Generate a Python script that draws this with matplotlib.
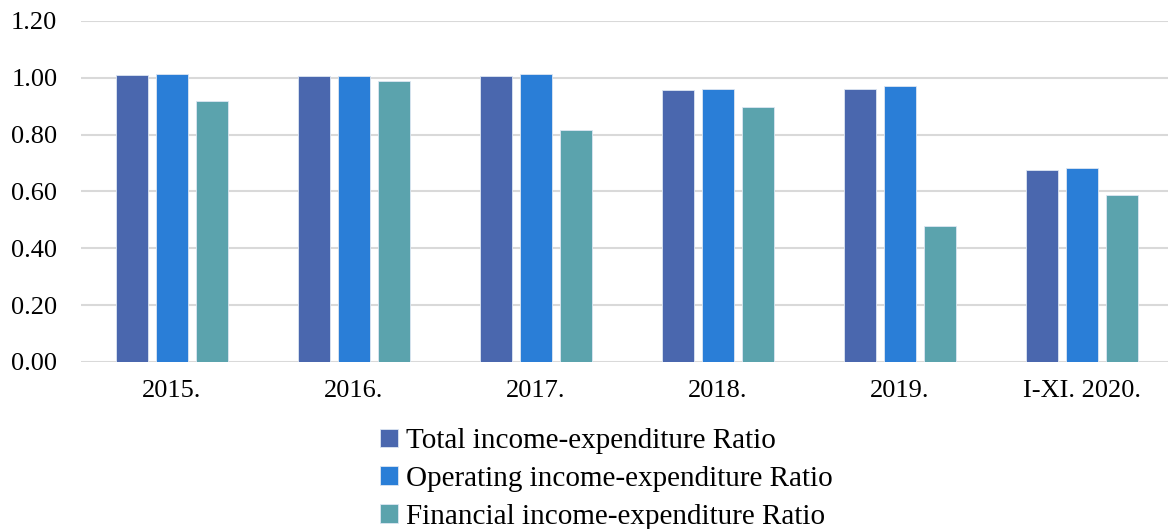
import numpy as np
import matplotlib.pyplot as plt

plt.rcParams['font.family'] = ['Liberation Serif', 'DejaVu Serif']

years = ['2015.', '2016.', '2017.', '2018.', '2019.', 'I-XI. 2020.']
total_ratio = [1.01, 1.006, 1.006, 0.957, 0.959, 0.676]
operating_ratio = [1.013, 1.006, 1.014, 0.959, 0.972, 0.684]
financial_ratio = [0.918, 0.988, 0.817, 0.896, 0.480, 0.588]

series = [
    ('Total income-expenditure Ratio', total_ratio, '#4A67AE'),
    ('Operating income-expenditure Ratio', operating_ratio, '#2A7ED7'),
    ('Financial income-expenditure Ratio', financial_ratio, '#5BA3AD'),
]

fig = plt.figure(figsize=(11.68, 5.29), dpi=100)
ax = fig.add_axes([81/1168, 167/529, 1092/1168, 341/529])

x = np.arange(len(years))
w = 0.176
step = 0.22
for i, (name, vals, col) in enumerate(series):
    ax.bar(x + (i - 1) * step, vals, width=w, color=col, label=name,
           edgecolor='#DDE6F2', linewidth=0.6, zorder=3)

ax.set_xlim(-0.5, len(years) - 0.5)
ax.set_ylim(0, 1.2)
ax.set_yticks(np.arange(0, 1.21, 0.2))
ax.set_yticklabels(['{:.2f}'.format(v) for v in np.arange(0, 1.21, 0.2)])
ax.set_xticks(x)
ax.set_xticklabels(years)
ax.tick_params(axis='both', length=0, labelsize=19)
ax.tick_params(axis='y', pad=17)
ax.tick_params(axis='x', pad=13)
ax.grid(axis='y', color='#D9D9D9', linewidth=1.5, zorder=0)
for s in ax.spines.values():
    s.set_visible(False)

fig.legend(loc='upper center', bbox_to_anchor=(0.519, 0.218), ncol=1,
           frameon=False, fontsize=21, handlelength=0.62, handleheight=0.62,
           handletextpad=0.25, labelspacing=0.4, borderpad=0)

fig.savefig('out.png', dpi=100)
